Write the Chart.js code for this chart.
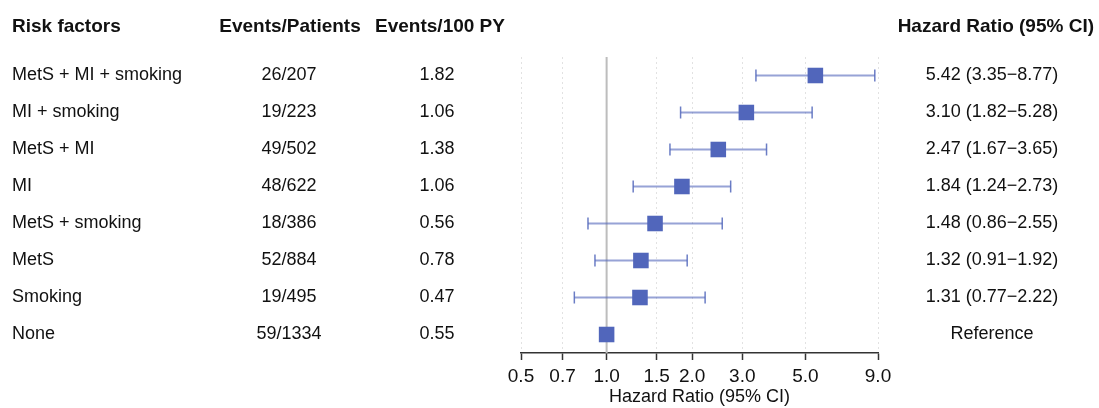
<!DOCTYPE html>
<html>
<head>
<meta charset="utf-8">
<script src="https://cdn.jsdelivr.net/npm/chart.js@4/dist/chart.umd.min.js"></script>
<style>
  html, body { margin: 0; padding: 0; background: #fff; }
  #wrap { width: 1099px; height: 408px; }
</style>
</head>
<body>
<div id="wrap"><canvas id="chart" width="1099" height="408"></canvas></div>
<script>
const riskFactors = ['MetS + MI + smoking', 'MI + smoking', 'MetS + MI', 'MI', 'MetS + smoking', 'MetS', 'Smoking', 'None'];
const eventsPatients = ['26/207', '19/223', '49/502', '48/622', '18/386', '52/884', '19/495', '59/1334'];
const eventsPer100 = ['1.82', '1.06', '1.38', '1.06', '0.56', '0.78', '0.47', '0.55'];
const hazardRatio = [5.42, 3.10, 2.47, 1.84, 1.48, 1.32, 1.31, 1.00];
const ciLower = [3.35, 1.82, 1.67, 1.24, 0.86, 0.91, 0.77, null];
const ciUpper = [8.77, 5.28, 3.65, 2.73, 2.55, 1.92, 2.22, null];
const hrLabels = ['5.42 (3.35\u22128.77)', '3.10 (1.82\u22125.28)', '2.47 (1.67\u22123.65)', '1.84 (1.24\u22122.73)',
                  '1.48 (0.86\u22122.55)', '1.32 (0.91\u22121.92)', '1.31 (0.77\u22122.22)', 'Reference'];
const xTicks = [0.5, 0.7, 1.0, 1.5, 2.0, 3.0, 5.0, 9.0];

const FONT = '"Liberation Sans", Arial, sans-serif';
const blue = '#5166bb';
const barBlue = 'rgba(81, 102, 187, 0.6)';

// squares
const datasets = [{
    data: hazardRatio.map((v, i) => ({ x: v, y: i + 1 })),
    pointStyle: 'rect',
    pointRadius: 11,
    backgroundColor: blue,
    borderColor: blue,
    borderWidth: 0,
    showLine: false,
    order: 0
}];

// confidence intervals, caps via the 'line' point style
hazardRatio.forEach((v, i) => {
    if (ciLower[i] == null) return;
    datasets.push({
        data: [{ x: ciLower[i], y: i + 1 }, { x: ciUpper[i], y: i + 1 }],
        showLine: true,
        borderColor: barBlue,
        borderWidth: 2,
        pointStyle: 'line',
        rotation: 90,
        pointRadius: 6,
        pointBorderColor: 'rgba(81, 102, 187, 0.85)',
        pointBorderWidth: 1.5,
        order: 1
    });
});

// reference line at HR = 1
datasets.push({
    data: [{ x: 1, y: 0.5 }, { x: 1, y: 8.5 }],
    showLine: true,
    borderColor: '#bdbdbd',
    borderWidth: 2,
    pointRadius: 0,
    order: 2
});

const textColumns = {
    id: 'textColumns',
    afterDraw(chart) {
        const ctx = chart.ctx;
        const y = chart.scales.y;
        ctx.save();
        ctx.fillStyle = '#111';
        ctx.textBaseline = 'middle';

        ctx.font = 'bold 19px ' + FONT;
        ctx.textAlign = 'left';
        ctx.fillText('Risk factors', 12, 27);
        ctx.textAlign = 'center';
        ctx.fillText('Events/Patients', 290, 27);
        ctx.fillText('Events/100 PY', 440, 27);
        ctx.textAlign = 'right';
        ctx.fillText('Hazard Ratio (95% CI)', 1094, 27);

        ctx.font = '18px ' + FONT;
        riskFactors.forEach((name, i) => {
            const py = y.getPixelForValue(i + 1);
            ctx.textAlign = 'left';
            ctx.fillText(name, 12, py);
            ctx.textAlign = 'center';
            ctx.fillText(eventsPatients[i], 289, py);
            ctx.fillText(eventsPer100[i], 437, py);
            ctx.fillText(hrLabels[i], 992, py);
        });
        ctx.restore();
    }
};

new Chart(document.getElementById('chart'), {
    type: 'scatter',
    data: { datasets },
    options: {
        responsive: false,
        animation: false,
        layout: { padding: { left: 521, right: 221, top: 57, bottom: 0 } },
        plugins: { legend: { display: false }, tooltip: { enabled: false } },
        scales: {
            x: {
                type: 'logarithmic',
                min: 0.5,
                max: 9,
                afterBuildTicks: (scale) => { scale.ticks = xTicks.map(v => ({ value: v })); },
                afterFit: (scale) => { scale.height = 55; },
                ticks: {
                    color: '#111',
                    font: { family: FONT, size: 19 },
                    padding: 5,
                    maxRotation: 0,
                    autoSkip: false,
                    callback: (v) => Number(v).toFixed(1)
                },
                grid: {
                    color: (c) => (c.tick && c.tick.value === 1 ? 'rgba(0,0,0,0)' : '#e2e2e2'),
                    lineWidth: 1,
                    tickColor: '#333',
                    tickLength: 7,
                    tickWidth: 1.5
                },
                border: { display: true, color: '#333', width: 1.5, dash: [2, 3] },
                title: {
                    display: true,
                    text: 'Hazard Ratio (95% CI)',
                    color: '#111',
                    font: { family: FONT, size: 18 },
                    padding: { top: 0, bottom: 0 }
                }
            },
            y: {
                type: 'linear',
                display: false,
                min: 0.5,
                max: 8.5,
                reverse: true
            }
        }
    },
    plugins: [textColumns]
});
</script>
</body>
</html>
